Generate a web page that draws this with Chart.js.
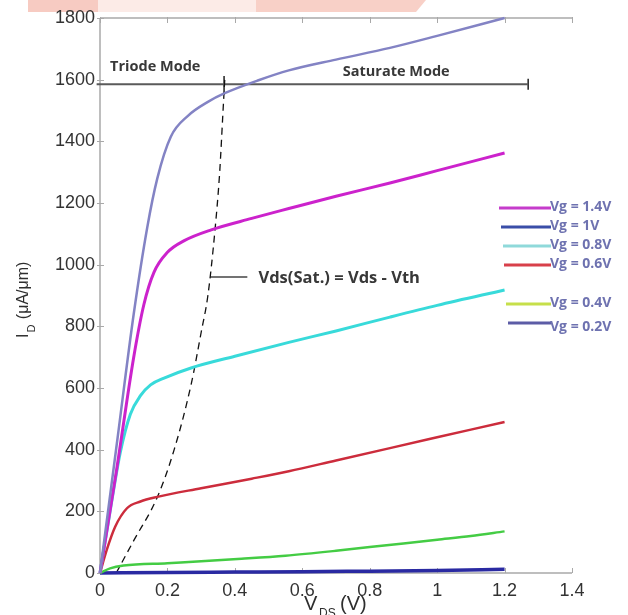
<!DOCTYPE html>
<html>
<head>
<meta charset="utf-8">
<script src="https://cdn.jsdelivr.net/npm/chart.js@4.4.1/dist/chart.umd.min.js"></script>
<style>
  html, body { margin: 0; padding: 0; background: #fff; }
  canvas { display: block; }
</style>
</head>
<body>
<canvas id="chart" width="628" height="615"></canvas>
<script>
/* ===== Axis ticks ===== */
const xTicks = [0, 0.2, 0.4, 0.6, 0.8, 1, 1.2, 1.4];
const yTicks = [0, 200, 400, 600, 800, 1000, 1200, 1400, 1600, 1800];

/* ===== Curves (Vds in V, Id in uA/um) ===== */
const vdsTop = [0, 0.05, 0.1, 0.14, 0.17, 0.21, 0.26, 0.32, 0.37, 0.47, 0.56, 0.7, 0.86, 1.0, 1.2];
const idTop = [0, 420, 840, 1120, 1280, 1415, 1482, 1528, 1556, 1598, 1630, 1665, 1703, 1742, 1800];

const vdsMagenta = [0, 0.05, 0.1, 0.13, 0.16, 0.2, 0.25, 0.33, 0.45, 0.56, 0.7, 0.86, 1.0, 1.2];
const idMagenta = [0, 340, 700, 870, 975, 1040, 1078, 1113, 1150, 1182, 1222, 1265, 1305, 1362];

const vdsCyan = [0, 0.03, 0.06, 0.09, 0.12, 0.15, 0.19, 0.27, 0.4, 0.56, 0.7, 0.86, 1.0, 1.2];
const idCyan = [0, 200, 390, 515, 575, 610, 632, 665, 703, 748, 785, 830, 868, 918];

const vdsRed = [0, 0.02, 0.045, 0.08, 0.12, 0.17, 0.3, 0.45, 0.56, 0.7, 0.86, 1.0, 1.2];
const idRed = [0, 75, 150, 210, 232, 247, 275, 306, 330, 365, 405, 440, 490];

const vdsGreen = [0, 0.03, 0.07, 0.2, 0.3, 0.42, 0.55, 0.7, 0.8, 0.9, 1.0, 1.1, 1.2];
const idGreen = [0, 15, 24, 32, 38, 46, 56, 72, 84, 96, 108, 120, 135];

const vdsBlue = [0, 0.2, 0.4, 0.6, 0.8, 1.0, 1.2];
const idBlue = [0, 2, 3, 4, 6, 8, 12];

/* ===== Vds(sat) dashed boundary ===== */
const vdsSat = [0.048, 0.1, 0.17, 0.22, 0.27, 0.3, 0.32, 0.34, 0.355, 0.365, 0.37];
const idSat = [0, 105, 246, 400, 610, 780, 900, 1100, 1300, 1500, 1600];

/* ===== Mode divider and pointer ===== */
const modeX = [-0.01, 1.27];
const modeY = [1585, 1585];
const splitX = [0.368, 0.368];
const splitY = [1612, 1550];
const endX = [1.27, 1.27];
const endY = [1603, 1567];
const pointerX = [0.327, 0.437];
const pointerY = [960, 960];

/* ===== Legend ===== */
const legendLabels = ['Vg = 1.4V', 'Vg = 1V', 'Vg = 0.8V', 'Vg = 0.6V', 'Vg = 0.4V', 'Vg = 0.2V'];
const legendColors = ['#c53ccb', '#3a4ea8', '#8fd9da', '#d8404a', '#c6df4a', '#5c5ca6'];

function pts(xs, ys) {
  return xs.map((x, i) => ({ x, y: ys[i] }));
}

function curve(xs, ys, color, width) {
  return {
    data: pts(xs, ys),
    borderColor: color,
    borderWidth: width,
    pointRadius: 0,
    cubicInterpolationMode: 'monotone',
    clip: 4
  };
}

function straight(xs, ys, color, width) {
  return {
    data: pts(xs, ys),
    borderColor: color,
    borderWidth: width,
    pointRadius: 0,
    tension: 0,
    clip: false
  };
}

/* ===== Decorations ===== */
const decor = {
  id: 'decor',
  beforeDraw(chart) {
    const ctx = chart.ctx;
    ctx.save();
    ctx.fillStyle = '#fff';
    ctx.fillRect(0, 0, chart.width, chart.height);
    // pink watermark strip at the top
    ctx.fillStyle = '#f7cbc2';
    ctx.fillRect(28, 0, 70, 12);
    ctx.fillStyle = '#fcebe7';
    ctx.fillRect(98, 0, 158, 12);
    ctx.fillStyle = '#f8d0c7';
    ctx.beginPath();
    ctx.moveTo(256, 0); ctx.lineTo(426, 0); ctx.lineTo(416, 12); ctx.lineTo(256, 12);
    ctx.closePath();
    ctx.fill();
    ctx.restore();
  },
  beforeDatasetsDraw(chart) {
    const { ctx, chartArea: a, scales: { x, y } } = chart;
    ctx.save();
    ctx.strokeStyle = '#a9a9a9';
    ctx.lineWidth = 1.5;
    ctx.beginPath();
    ctx.moveTo(a.left, a.top); ctx.lineTo(a.left, a.bottom); ctx.lineTo(a.right, a.bottom);
    ctx.moveTo(a.left, a.top); ctx.lineTo(a.right, a.top);
    ctx.stroke();
    ctx.lineWidth = 1;
    ctx.beginPath();
    xTicks.forEach(v => {
      const px = Math.round(x.getPixelForValue(v)) + 0.5;
      ctx.moveTo(px, a.bottom); ctx.lineTo(px, a.bottom - 5);
      ctx.moveTo(px, a.top - 1); ctx.lineTo(px, a.top + 5);
    });
    yTicks.forEach(v => {
      const py = Math.round(y.getPixelForValue(v)) + 0.5;
      ctx.moveTo(a.left - 3, py); ctx.lineTo(a.left + 4, py);
    });
    ctx.stroke();
    ctx.restore();
  },
  afterDraw(chart) {
    const { ctx, scales: { x, y } } = chart;
    ctx.save();

    // annotations
    ctx.fillStyle = '#383838';
    ctx.textBaseline = 'alphabetic';
    ctx.font = 'bold 14.5px "Open Sans"';
    ctx.fillText('Triode Mode', x.getPixelForValue(0.03), 71);
    ctx.fillText('Saturate Mode', x.getPixelForValue(0.72), 76);
    ctx.font = 'bold 16.5px "Open Sans"';
    ctx.fillText('Vds(Sat.) = Vds - Vth', x.getPixelForValue(0.47), 283);

    // legend
    ctx.font = 'bold 14px "Open Sans"';
    ctx.textBaseline = 'middle';
    const rows = [208, 227, 246, 265, 304, 323];
    const starts = [499, 501, 503, 504, 506, 508];
    legendLabels.forEach((label, i) => {
      ctx.strokeStyle = legendColors[i];
      ctx.lineWidth = 3;
      ctx.beginPath();
      ctx.moveTo(starts[i], rows[i]);
      ctx.lineTo(551, rows[i]);
      ctx.stroke();
      ctx.fillStyle = '#6e72b0';
      ctx.fillText(label, 550, rows[i] + (i === 5 ? 4 : -1));
    });

    // y axis title: I_D (uA/um)
    ctx.fillStyle = '#2e2e2e';
    ctx.textBaseline = 'alphabetic';
    ctx.translate(28, 338);
    ctx.rotate(-Math.PI / 2);
    ctx.font = '16px "Liberation Sans"';
    ctx.fillText('I', 0, 0);
    let w = ctx.measureText('I').width;
    ctx.font = '11px "Liberation Sans"';
    ctx.fillText('D', w + 1, 7);
    w += ctx.measureText('D').width + 2;
    ctx.font = '16px "Liberation Sans"';
    ctx.fillText(' (\u03bcA/\u03bcm)', w, 0);
    ctx.setTransform(1, 0, 0, 1, 0, 0);

    // x axis title: V_DS (V)
    ctx.font = '20px "Liberation Sans"';
    ctx.fillText('V', 304, 610);
    ctx.font = '12px "Liberation Sans"';
    ctx.fillText('DS', 319, 617);
    ctx.font = '20px "Liberation Sans"';
    ctx.fillText('(V)', 340, 610);

    ctx.restore();
  }
};

/* ===== Chart ===== */
new Chart(document.getElementById('chart'), {
  type: 'line',
  data: {
    datasets: [
      curve(vdsTop, idTop, '#8383c4', 2.5),
      curve(vdsMagenta, idMagenta, '#cc22cc', 3),
      curve(vdsCyan, idCyan, '#38dada', 3),
      curve(vdsRed, idRed, '#cc2c3c', 2.5),
      curve(vdsGreen, idGreen, '#44cc44', 2.5),
      curve(vdsBlue, idBlue, '#2a2aa2', 3.5),
      Object.assign(curve(vdsSat, idSat, '#111', 1.3), { borderDash: [7, 5] }),
      straight(modeX, modeY, '#5a5a5a', 2),
      straight(splitX, splitY, '#222', 1.5),
      straight(endX, endY, '#222', 1.5),
      straight(pointerX, pointerY, '#444', 1.5)
    ]
  },
  options: {
    responsive: false,
    devicePixelRatio: 1,
    animation: false,
    events: [],
    layout: { padding: { top: 18, right: 56, left: 0, bottom: 0 } },
    plugins: { legend: { display: false }, tooltip: { enabled: false } },
    scales: {
      x: {
        type: 'linear',
        min: 0,
        max: 1.4,
        afterBuildTicks: s => { s.ticks = xTicks.map(v => ({ value: v })); },
        afterFit: s => { s.height = 42; },
        grid: { display: false, drawTicks: false },
        border: { display: false },
        ticks: {
          padding: 7,
          color: '#333',
          font: { family: 'Liberation Sans', size: 18 },
          callback: v => String(+v.toFixed(1))
        }
      },
      y: {
        type: 'linear',
        min: 0,
        max: 1800,
        afterBuildTicks: s => { s.ticks = yTicks.map(v => ({ value: v })); },
        afterFit: s => { s.width = 100; },
        grid: { display: false, drawTicks: false },
        border: { display: false },
        ticks: {
          padding: 5,
          color: '#333',
          font: { family: 'Liberation Sans', size: 18 },
          callback: v => String(v)
        }
      }
    }
  },
  plugins: [decor]
});
</script>
</body>
</html>
